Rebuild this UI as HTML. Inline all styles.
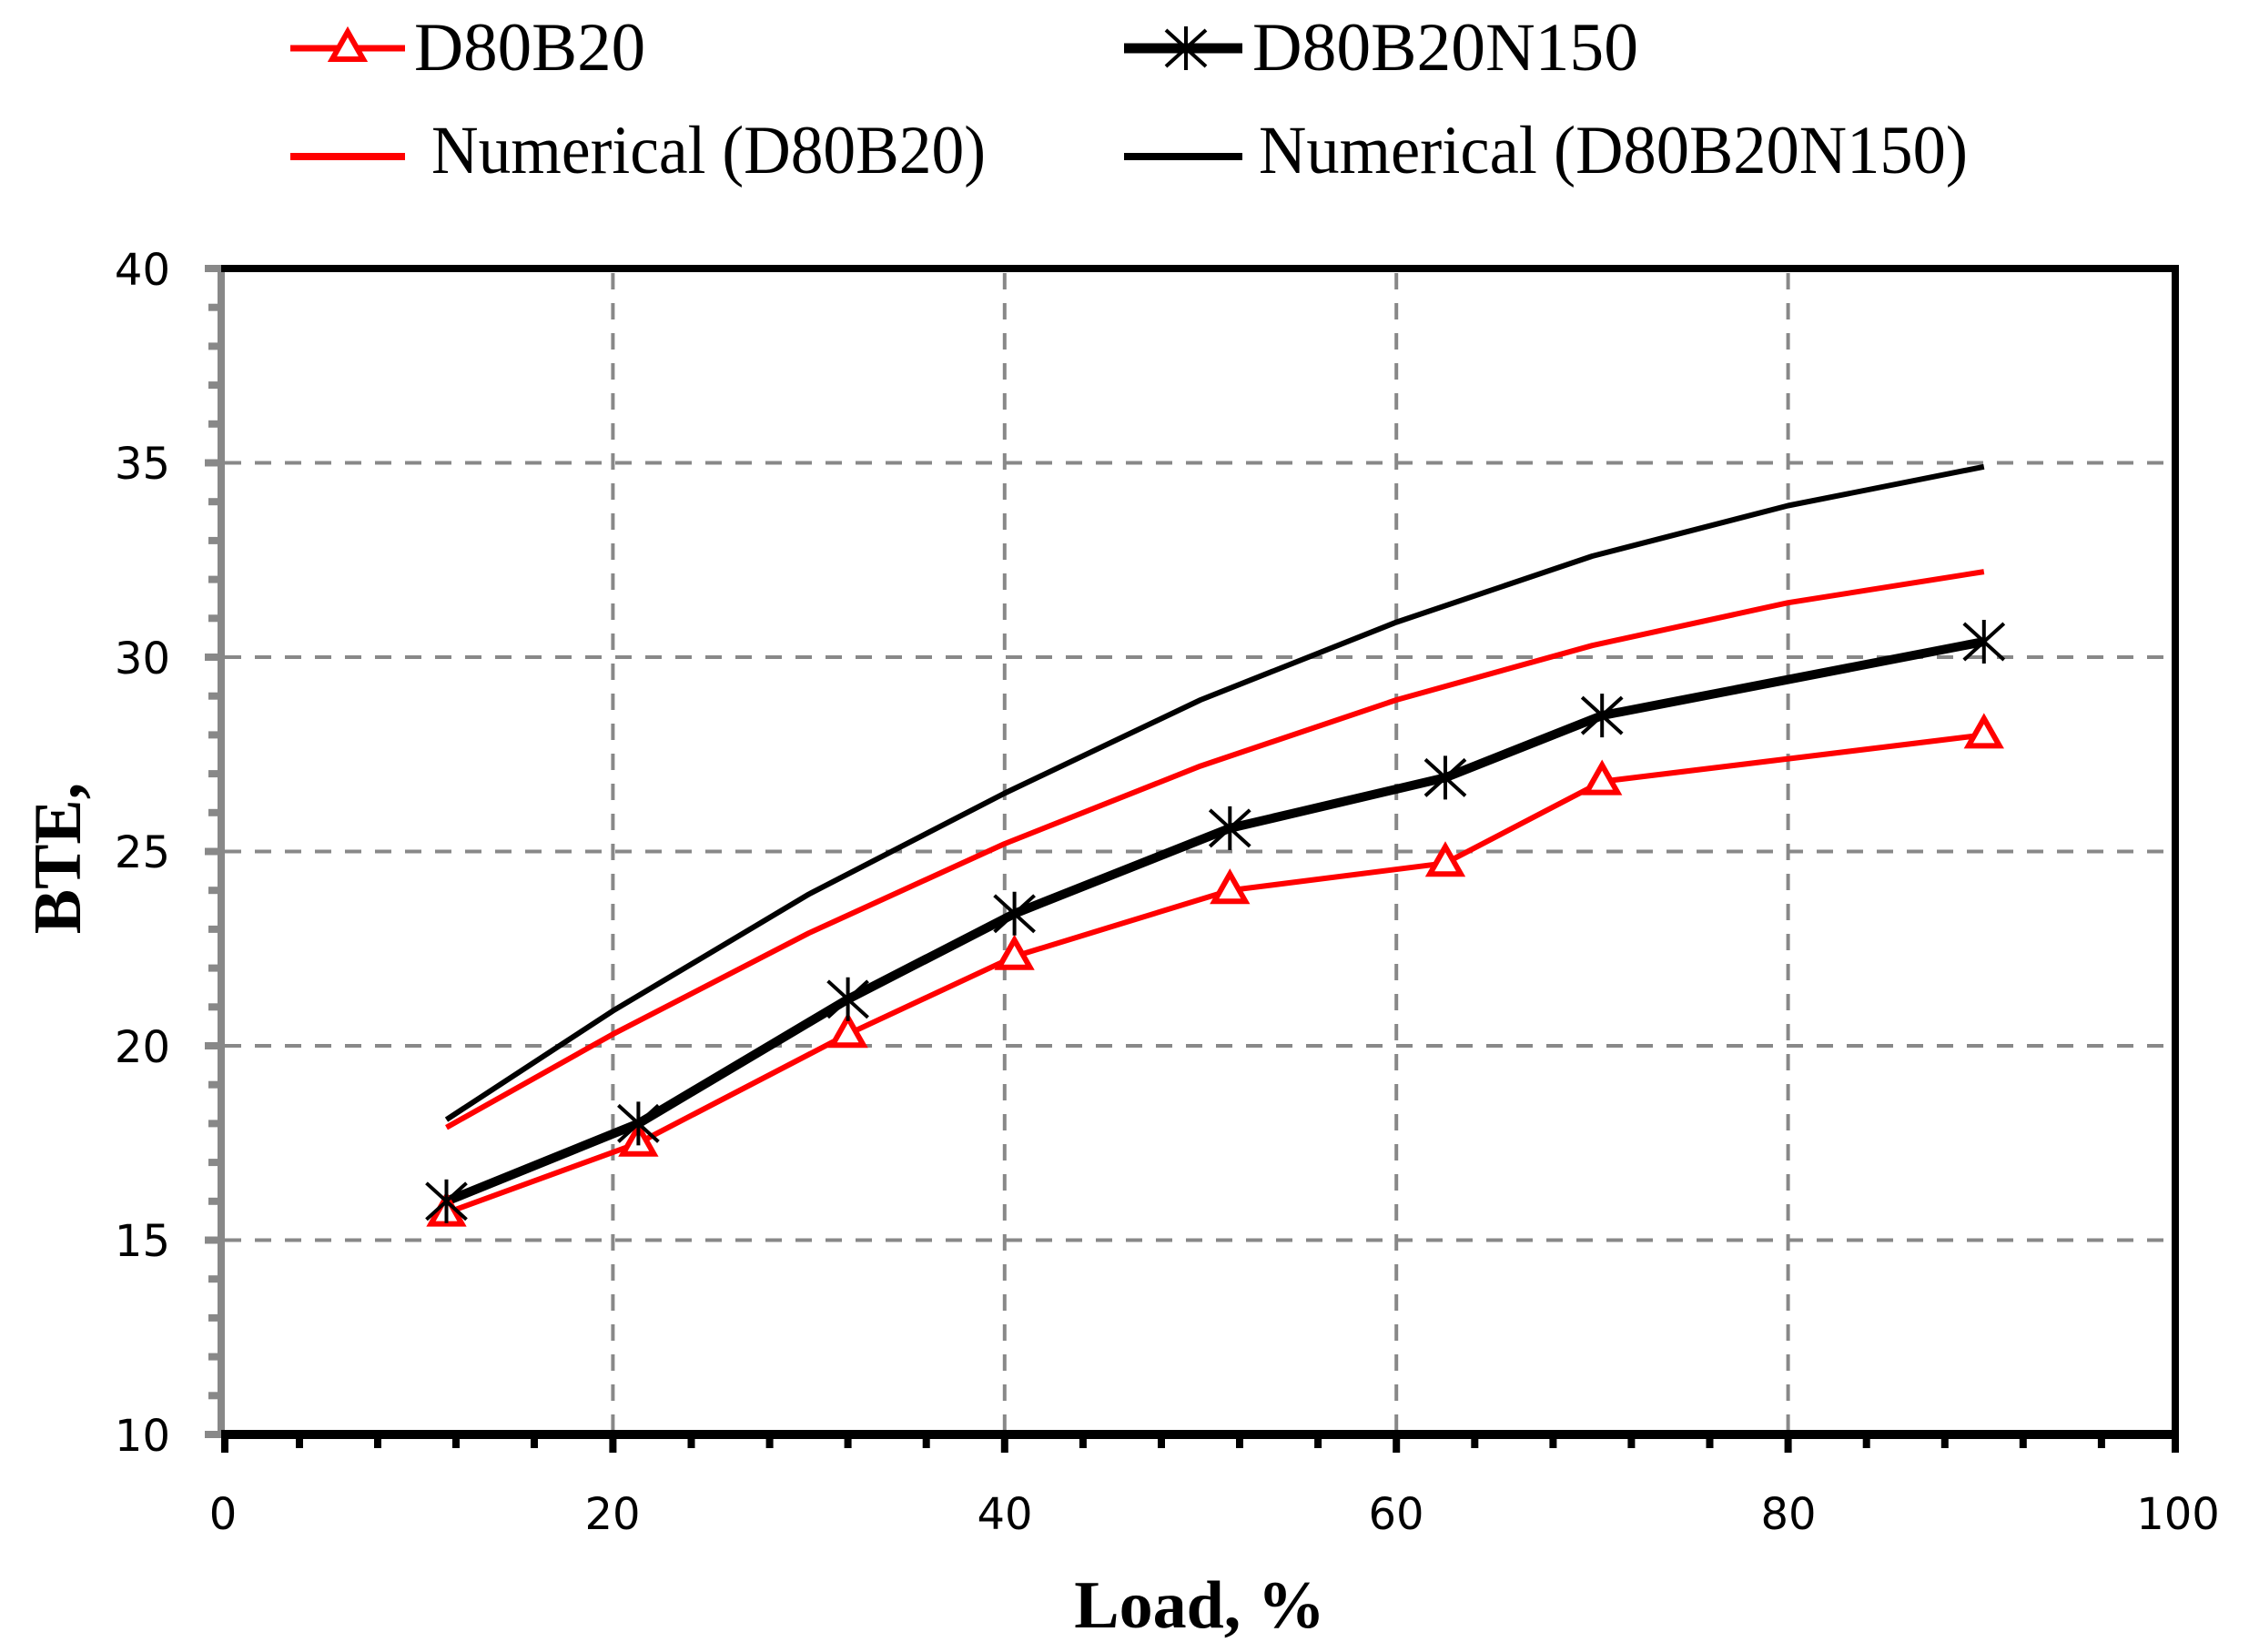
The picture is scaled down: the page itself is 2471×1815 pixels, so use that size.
<!DOCTYPE html>
<html><head><meta charset="utf-8"><style>
html,body{margin:0;padding:0;background:#fff;}
svg{display:block;}
</style></head><body>
<svg width="2471" height="1815" viewBox="0 0 2471 1815" xmlns="http://www.w3.org/2000/svg">
<defs>
<g id="tri"><path d="M0,-18 L17,12 L-17,12 Z" fill="#fff" stroke="#ff0000" stroke-width="6" stroke-linejoin="miter"/></g>
<g id="star" stroke="#000" stroke-width="4"><line x1="0" y1="-24" x2="0" y2="24"/><line x1="-22" y1="-20" x2="22" y2="20"/><line x1="-22" y1="20" x2="22" y2="-20"/></g>
</defs>
<g stroke="#888" stroke-width="4" stroke-dasharray="18,15">
<line x1="673.4" y1="300" x2="673.4" y2="1572"/>
<line x1="1103.8" y1="300" x2="1103.8" y2="1572"/>
<line x1="1534.2" y1="300" x2="1534.2" y2="1572"/>
<line x1="1964.6" y1="300" x2="1964.6" y2="1572"/>
<line x1="247" y1="1362.5" x2="2386" y2="1362.5"/>
<line x1="247" y1="1149" x2="2386" y2="1149"/>
<line x1="247" y1="935.5" x2="2386" y2="935.5"/>
<line x1="247" y1="722" x2="2386" y2="722"/>
<line x1="247" y1="508.5" x2="2386" y2="508.5"/>
</g>
<g stroke="#888" stroke-width="8">
<line x1="225" y1="295" x2="243" y2="295"/>
<line x1="229" y1="337.7" x2="243" y2="337.7"/><line x1="229" y1="380.4" x2="243" y2="380.4"/><line x1="229" y1="423.1" x2="243" y2="423.1"/><line x1="229" y1="465.8" x2="243" y2="465.8"/>
<line x1="225" y1="508.5" x2="243" y2="508.5"/>
<line x1="229" y1="551.2" x2="243" y2="551.2"/><line x1="229" y1="593.9" x2="243" y2="593.9"/><line x1="229" y1="636.6" x2="243" y2="636.6"/><line x1="229" y1="679.3" x2="243" y2="679.3"/>
<line x1="225" y1="722" x2="243" y2="722"/>
<line x1="229" y1="764.7" x2="243" y2="764.7"/><line x1="229" y1="807.4" x2="243" y2="807.4"/><line x1="229" y1="850.1" x2="243" y2="850.1"/><line x1="229" y1="892.8" x2="243" y2="892.8"/>
<line x1="225" y1="935.5" x2="243" y2="935.5"/>
<line x1="229" y1="978.2" x2="243" y2="978.2"/><line x1="229" y1="1020.9" x2="243" y2="1020.9"/><line x1="229" y1="1063.6" x2="243" y2="1063.6"/><line x1="229" y1="1106.3" x2="243" y2="1106.3"/>
<line x1="225" y1="1149" x2="243" y2="1149"/>
<line x1="229" y1="1191.7" x2="243" y2="1191.7"/><line x1="229" y1="1234.4" x2="243" y2="1234.4"/><line x1="229" y1="1277.1" x2="243" y2="1277.1"/><line x1="229" y1="1319.8" x2="243" y2="1319.8"/>
<line x1="225" y1="1362.5" x2="243" y2="1362.5"/>
<line x1="229" y1="1405.2" x2="243" y2="1405.2"/><line x1="229" y1="1447.9" x2="243" y2="1447.9"/><line x1="229" y1="1490.6" x2="243" y2="1490.6"/><line x1="229" y1="1533.3" x2="243" y2="1533.3"/>
<line x1="225" y1="1576" x2="243" y2="1576"/>
<line x1="243" y1="291" x2="243" y2="1578"/>
</g>
<line x1="243" y1="295" x2="2394" y2="295" stroke="#000" stroke-width="8"/>
<line x1="2390" y1="291" x2="2390" y2="1580" stroke="#000" stroke-width="8"/>
<line x1="243" y1="1576" x2="2394" y2="1576" stroke="#000" stroke-width="10"/>
<g stroke="#000" stroke-width="8">
<line x1="247" y1="1576" x2="247" y2="1596"/><line x1="329" y1="1576" x2="329" y2="1591"/><line x1="415" y1="1576" x2="415" y2="1591"/><line x1="501" y1="1576" x2="501" y2="1591"/><line x1="587" y1="1576" x2="587" y2="1591"/>
<line x1="673.4" y1="1576" x2="673.4" y2="1596"/><line x1="759.5" y1="1576" x2="759.5" y2="1591"/><line x1="845.6" y1="1576" x2="845.6" y2="1591"/><line x1="931.6" y1="1576" x2="931.6" y2="1591"/><line x1="1017.7" y1="1576" x2="1017.7" y2="1591"/>
<line x1="1103.8" y1="1576" x2="1103.8" y2="1596"/><line x1="1189.9" y1="1576" x2="1189.9" y2="1591"/><line x1="1276" y1="1576" x2="1276" y2="1591"/><line x1="1362" y1="1576" x2="1362" y2="1591"/><line x1="1448.1" y1="1576" x2="1448.1" y2="1591"/>
<line x1="1534.2" y1="1576" x2="1534.2" y2="1596"/><line x1="1620.3" y1="1576" x2="1620.3" y2="1591"/><line x1="1706.4" y1="1576" x2="1706.4" y2="1591"/><line x1="1792.4" y1="1576" x2="1792.4" y2="1591"/><line x1="1878.5" y1="1576" x2="1878.5" y2="1591"/>
<line x1="1964.6" y1="1576" x2="1964.6" y2="1596"/><line x1="2050.7" y1="1576" x2="2050.7" y2="1591"/><line x1="2136.8" y1="1576" x2="2136.8" y2="1591"/><line x1="2222.8" y1="1576" x2="2222.8" y2="1591"/><line x1="2308.9" y1="1576" x2="2308.9" y2="1591"/>
<line x1="2390" y1="1576" x2="2390" y2="1596"/>
</g>
<g font-family="'DejaVu Sans', Verdana, sans-serif" font-size="48" fill="#000" text-anchor="end">
<text x="187" y="313">40</text><text x="187" y="526">35</text><text x="187" y="740">30</text>
<text x="187" y="953">25</text><text x="187" y="1167">20</text><text x="187" y="1380">15</text><text x="187" y="1594">10</text>
</g>
<g font-family="'DejaVu Sans', Verdana, sans-serif" font-size="48" fill="#000" text-anchor="middle">
<text x="245" y="1680">0</text><text x="673" y="1680">20</text><text x="1104" y="1680">40</text>
<text x="1534" y="1680">60</text><text x="1965" y="1680">80</text><text x="2393" y="1680">100</text>
</g>
<text x="1318" y="1788" font-family="'Liberation Serif', serif" font-weight="bold" font-size="74" text-anchor="middle" fill="#000">Load, %</text>
<text transform="translate(88,943) rotate(-90)" font-family="'Liberation Serif', serif" font-weight="bold" font-size="74" text-anchor="middle" fill="#000">BTE,</text>
<polyline fill="none" stroke="#000" stroke-width="6" stroke-linejoin="round" points="490.5,1230.1 673.4,1110.6 888.6,982.5 1103.8,871.5 1319,769 1534.2,683.6 1749.4,611 1964.6,555.5 2179.8,512.8"/>
<polyline fill="none" stroke="#ff0000" stroke-width="6" stroke-linejoin="round" points="490.5,1238.7 673.4,1136.2 888.6,1025.2 1103.8,927 1319,841.6 1534.2,769 1749.4,709.2 1964.6,662.2 2179.8,628.1"/>
<polyline fill="none" stroke="#ff0000" stroke-width="6" stroke-linejoin="round" points="490.5,1332.6 701.4,1255.8 931.6,1136.2 1114.6,1050.8 1351.3,978.2 1588,948.3 1760.2,858.6 2179.8,807.4"/>
<polyline fill="none" stroke="#000" stroke-width="10" stroke-linejoin="round" points="490.5,1319.8 701.4,1234.4 931.6,1097.8 1114.6,1003.8 1351.3,909.9 1588,854.4 1760.2,786.1 2179.8,705"/>
<g>
<use href="#tri" x="490.5" y="1332.6"/><use href="#tri" x="701.4" y="1255.8"/><use href="#tri" x="931.6" y="1136.2"/><use href="#tri" x="1114.6" y="1050.8"/>
<use href="#tri" x="1351.3" y="978.2"/><use href="#tri" x="1588" y="948.3"/><use href="#tri" x="1760.2" y="858.6"/><use href="#tri" x="2179.8" y="807.4"/>
</g>
<g>
<use href="#star" x="490.5" y="1319.8"/><use href="#star" x="701.4" y="1234.4"/><use href="#star" x="931.6" y="1097.8"/><use href="#star" x="1114.6" y="1003.8"/>
<use href="#star" x="1351.3" y="909.9"/><use href="#star" x="1588" y="854.4"/><use href="#star" x="1760.2" y="786.1"/><use href="#star" x="2179.8" y="705"/>
</g>
<line x1="319" y1="53" x2="445" y2="53" stroke="#ff0000" stroke-width="7"/>
<use href="#tri" x="382" y="53"/>
<text x="455" y="77" font-family="'Liberation Serif', serif" font-size="75" fill="#000">D80B20</text>
<line x1="319" y1="172" x2="445" y2="172" stroke="#ff0000" stroke-width="8"/>
<text x="474" y="190" font-family="'Liberation Serif', serif" font-size="75" fill="#000" textLength="609" lengthAdjust="spacingAndGlyphs">Numerical (D80B20)</text>
<line x1="1235" y1="53" x2="1365" y2="53" stroke="#000" stroke-width="11"/>
<use href="#star" x="1303" y="53"/>
<text x="1376" y="77" font-family="'Liberation Serif', serif" font-size="75" fill="#000" textLength="424" lengthAdjust="spacingAndGlyphs">D80B20N150</text>
<line x1="1235" y1="172" x2="1365" y2="172" stroke="#000" stroke-width="8"/>
<text x="1383" y="190" font-family="'Liberation Serif', serif" font-size="75" fill="#000" textLength="779" lengthAdjust="spacingAndGlyphs">Numerical (D80B20N150)</text>
</svg>
</body></html>
